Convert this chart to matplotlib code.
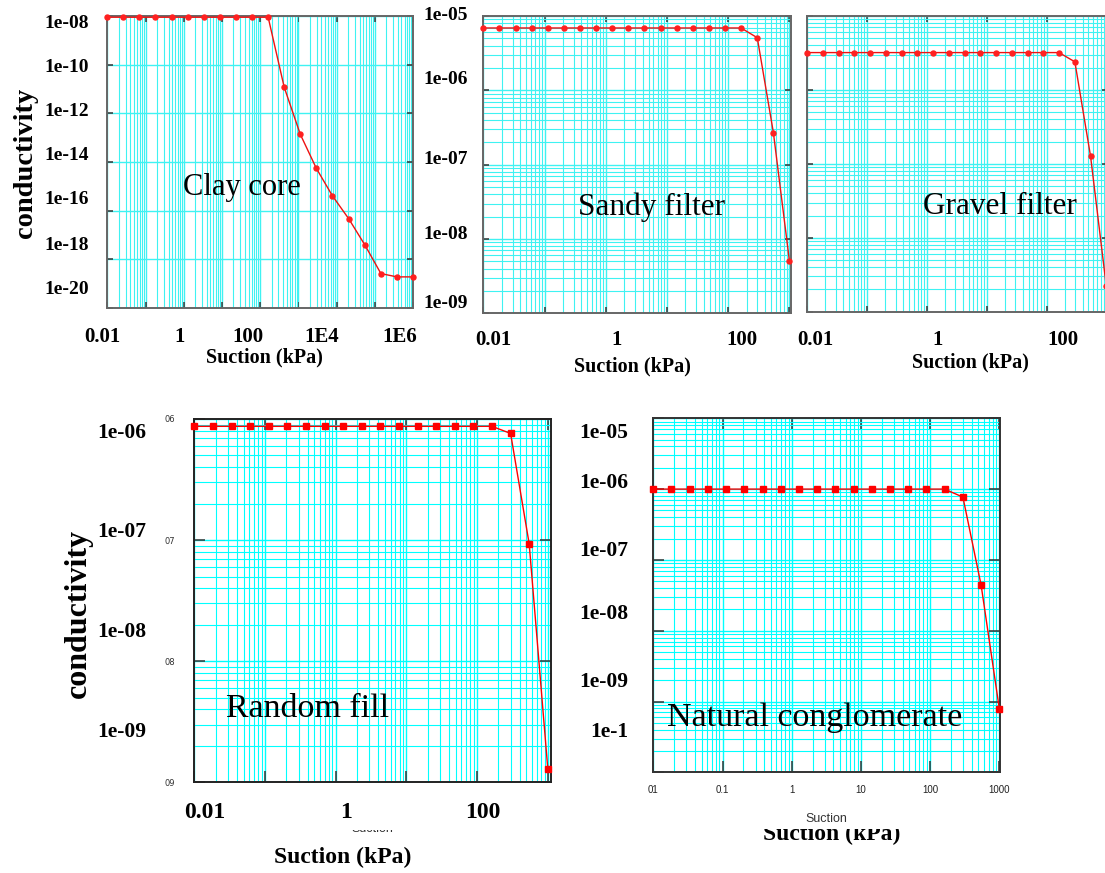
import numpy as np
import matplotlib
matplotlib.use('Agg')
import matplotlib.pyplot as plt
from matplotlib.ticker import LogLocator, FixedLocator, FixedFormatter, NullLocator, NullFormatter
from matplotlib.transforms import Bbox, TransformedBbox

# ---------------- data ----------------
clay_suction = [0.01, 0.0263, 0.0692, 0.182, 0.479, 1.29, 3.39, 8.91, 23.4, 61.7,
                162, 427, 1122, 2951, 7762, 20893, 54954, 144544, 380189, 1000000]
clay_conductivity = [8.9e-9, 8.9e-9, 8.9e-9, 8.9e-9, 8.9e-9, 8.9e-9, 8.9e-9, 8.9e-9, 8.9e-9, 8.9e-9,
                     8.9e-9, 1.17e-11, 1.38e-13, 5.5e-15, 4.1e-16, 4.6e-17, 3.9e-18, 2.6e-19, 1.9e-19, 1.9e-19]

filter_suction = [0.01, 0.0183, 0.0336, 0.0615, 0.113, 0.207, 0.379, 0.695, 1.27, 2.34,
                  4.28, 7.85, 14.4, 26.4, 48.3, 88.6, 162, 298, 546, 1000]
sandy_conductivity = [6.9e-6] * 17 + [5.1e-6, 2.7e-7, 5.0e-9]
gravel_conductivity = [3.2e-6] * 17 + [2.4e-6, 1.26e-7, 2.2e-9]
random_fill_conductivity = [8.7e-7] * 17 + [7.6e-7, 9.3e-8, 1.3e-9]
conglomerate_conductivity = [1.0e-6] * 17 + [7.7e-7, 4.4e-8, 7.9e-10]

clay_ytick_labels = ['1e-08', '1e-10', '1e-12', '1e-14', '1e-16', '1e-18', '1e-20']
clay_xtick_labels = ['0.01', '1', '100', '1E4', '1E6']
filter_ytick_labels = ['1e-05', '1e-06', '1e-07', '1e-08', '1e-09']
filter_xtick_labels = ['0.01', '1', '100']
fill_ytick_labels = ['1e-06', '1e-07', '1e-08', '1e-09']
fill_small_ylabels = ['06', '07', '08', '09']
congl_ytick_labels = ['1e-05', '1e-06', '1e-07', '1e-08', '1e-09', '1e-1']
congl_small_xlabels = ['01', '0.1', '1', '10', '100', '1000']

panel_names = ['Clay core', 'Sandy filter', 'Gravel filter', 'Random fill', 'Natural conglomerate']
ylabel_text = 'conductivity'
xlabel_text = 'Suction (kPa)'

# ---------------- layout helpers ----------------
W, H = 1105, 873
fig = plt.figure(figsize=(W / 100, H / 100), dpi=100)
SERIF = 'Liberation Serif'
SANS = 'Liberation Sans'


def px_axes(l, t, r, b):
    return fig.add_axes([l / W, 1 - b / H, (r - l) / W, (b - t) / H])


def ftext(x, y, s, **kw):
    kw.setdefault('family', SERIF)
    return fig.text(x / W, 1 - y / H, s, **kw)


def style(ax, xlim, ylim, grid_color, spine_color, tick_len, ymajor=None, yminor=True):
    ax.set_xscale('log')
    ax.set_yscale('log')
    ax.set_xlim(*xlim)
    ax.set_ylim(*ylim)
    ax.xaxis.set_major_locator(LogLocator(base=10, numticks=30))
    ax.xaxis.set_minor_locator(LogLocator(base=10, subs=np.arange(2, 10), numticks=30))
    if ymajor is not None:
        ax.yaxis.set_major_locator(FixedLocator(ymajor))
    else:
        ax.yaxis.set_major_locator(LogLocator(base=10, numticks=30))
    if yminor:
        ax.yaxis.set_minor_locator(LogLocator(base=10, subs=np.arange(2, 10), numticks=30))
    else:
        ax.yaxis.set_minor_locator(NullLocator())
    ax.xaxis.set_major_formatter(NullFormatter())
    ax.yaxis.set_major_formatter(NullFormatter())
    ax.xaxis.set_minor_formatter(NullFormatter())
    ax.yaxis.set_minor_formatter(NullFormatter())
    ax.grid(True, which='major', color=grid_color, lw=1.0)
    ax.grid(True, which='minor', color=grid_color, lw=0.8)
    ax.set_axisbelow(True)
    ax.tick_params(which='major', direction='in', length=tick_len, width=1.1, color='#333333',
                   top=True, right=True, bottom=True, left=True)
    ax.tick_params(which='minor', length=0)
    for s in ax.spines.values():
        s.set_color(spine_color)
        s.set_linewidth(1.4)


TOP_GRID = '#3ff2f2'
BOT_GRID = '#00ffff'

# ---------------- panel 1: clay core ----------------
ax1 = px_axes(107.3, 16, 413, 308)
style(ax1, (0.01, 1e6), (1e-20, 1e-8), TOP_GRID, '#666666', 4,
      ymajor=[1e-20, 1e-18, 1e-16, 1e-14, 1e-12, 1e-10, 1e-8], yminor=False)
ax1.plot(clay_suction, clay_conductivity, color='#ee1111', lw=1.0, marker='o', ms=3.6,
         mfc='#ff2020', mec='#ff2020', clip_on=False, zorder=3)

# ---------------- panel 2: sandy filter ----------------
ax2 = px_axes(483.3, 16, 790.7, 313.3)
style(ax2, (0.01, 1000 * 10 ** 0.02), (1e-9, 1e-5), TOP_GRID, '#666666', 4)
ax2.plot(filter_suction, sandy_conductivity, color='#ee1111', lw=1.0, marker='o', ms=3.6,
         mfc='#ff2020', mec='#ff2020', clip_on=False, zorder=3)

# ---------------- panel 3: gravel filter ----------------
ax3 = px_axes(807.3, 16, 1107.5, 311.7)
style(ax3, (0.01, 1000 * 10 ** 0.02), (1e-9, 1e-5), TOP_GRID, '#666666', 4)
ax3.plot(filter_suction, gravel_conductivity, color='#ee1111', lw=1.0, marker='o', ms=3.6,
         mfc='#ff2020', mec='#ff2020', clip_on=False, zorder=3)

# ---------------- panel 4: random fill ----------------
ax4 = px_axes(194.3, 419, 550.7, 782.3)
style(ax4, (0.01, 1100), (1e-9, 1e-6), BOT_GRID, '#222222', 8)
ax4.plot(filter_suction, random_fill_conductivity, color='#ff0000', lw=1.0, marker='s', ms=4.0,
         mfc='#ff0000', mec='#ff0000', clip_on=False, zorder=3)
ax4.yaxis.set_major_formatter(FixedFormatter(fill_small_ylabels))
ax4.yaxis.set_major_locator(FixedLocator([1e-6, 1e-7, 1e-8, 1e-9]))
ax4.tick_params(axis='y', which='major', labelsize=6, labelcolor='#333333', pad=14)

# ---------------- panel 5: natural conglomerate ----------------
ax5 = px_axes(653.3, 418.3, 1000, 772.3)
style(ax5, (0.01, 1000 * 10 ** 0.01), (1e-10, 1e-5), BOT_GRID, '#333333', 8)
ax5.plot(filter_suction, conglomerate_conductivity, color='#ff0000', lw=1.0, marker='s', ms=4.0,
         mfc='#ff0000', mec='#ff0000', clip_on=False, zorder=3)
ax5.xaxis.set_major_locator(FixedLocator([0.01, 0.1, 1, 10, 100, 1000]))
ax5.xaxis.set_major_formatter(FixedFormatter(congl_small_xlabels))
ax5.tick_params(axis='x', which='major', labelsize=7, labelcolor='#222222', pad=9)
for lab in ax5.get_xticklabels():
    lab.set_family(SANS)
ax5.set_xlabel('Suction', family=SANS, fontsize=9, color='#333333', labelpad=13)

# ---------------- overlaid labels (top row) ----------------
for lab, y in zip(clay_ytick_labels, [23, 67, 112, 155, 200, 245, 290]):
    ftext(89, y, lab, ha='right', va='center', fontsize=14, weight='bold')
for lab, x in zip(clay_xtick_labels, [102, 180, 248, 322, 400]):
    ftext(x, 337, lab, ha='center', va='center', fontsize=15, weight='bold')
ftext(264, 357, xlabel_text, ha='center', va='center', fontsize=14.5, weight='bold')
ftext(26, 163, ylabel_text, ha='center', va='center', fontsize=20.5, weight='bold', rotation=90)
ftext(242, 188, panel_names[0], ha='center', va='center', fontsize=22)

for lab, y in zip(filter_ytick_labels, [15, 80, 160, 235, 303]):
    ftext(468, y, lab, ha='right', va='center', fontsize=14, weight='bold')
for lab, x in zip(filter_xtick_labels, [493, 617, 742]):
    ftext(x, 340, lab, ha='center', va='center', fontsize=15, weight='bold')
ftext(632, 366, xlabel_text, ha='center', va='center', fontsize=14.5, weight='bold')
ftext(652, 207, panel_names[1], ha='center', va='center', fontsize=22.5)

for lab, x in zip(filter_xtick_labels, [815, 938, 1063]):
    ftext(x, 340, lab, ha='center', va='center', fontsize=15, weight='bold')
ftext(970, 362, xlabel_text, ha='center', va='center', fontsize=14.5, weight='bold')
ftext(1000, 207, panel_names[2], ha='center', va='center', fontsize=22.5)

# ---------------- overlaid labels (bottom row) ----------------
for lab, y in zip(fill_ytick_labels, [433, 532, 632, 732]):
    ftext(146, y, lab, ha='right', va='center', fontsize=15.5, weight='bold')
for lab, x in zip(filter_xtick_labels, [205, 346, 483]):
    ftext(x, 813, lab, ha='center', va='center', fontsize=17, weight='bold')
ftext(343, 857, xlabel_text, ha='center', va='center', fontsize=17, weight='bold')
ftext(78, 613, ylabel_text, ha='center', va='center', fontsize=23, weight='bold', rotation=90)
ftext(308, 709, panel_names[3], ha='center', va='center', fontsize=24.5)

for lab, y in zip(congl_ytick_labels, [433, 483, 551, 614, 682, 732]):
    ftext(628, y, lab, ha='right', va='center', fontsize=15.5, weight='bold')
ftext(815, 718, panel_names[4], ha='center', va='center', fontsize=24.5)

# partially hidden captions (cut off in the original collage)
clip_low = TransformedBbox(Bbox([[0, 0], [1, (H - 829) / H]]), fig.transFigure)
t1 = ftext(832, 840, xlabel_text, ha='center', va='baseline', fontsize=17, weight='bold')
t1.set_clip_on(True)
t1.set_clip_box(clip_low)
clip_low2 = TransformedBbox(Bbox([[0, 0], [1, (H - 829.5) / H]]), fig.transFigure)
t2 = ftext(372, 831.5, 'Suction', ha='center', va='baseline', fontsize=9, family=SANS, color='#333333')
t2.set_clip_on(True)
t2.set_clip_box(clip_low2)

fig.savefig('out.png', dpi=100, facecolor='white')
